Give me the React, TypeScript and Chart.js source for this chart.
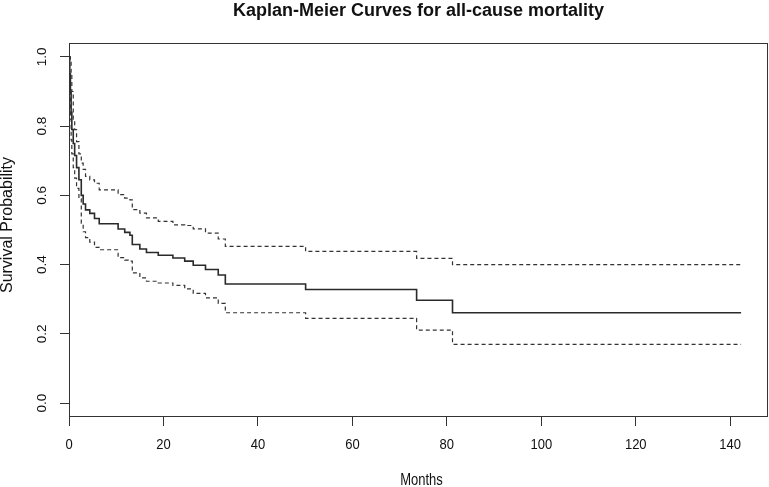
import React, { useEffect, useRef } from 'react';
import { Chart, registerables } from 'chart.js';

Chart.register(...registerables);

// Kaplan-Meier step data (months since start)
const months = [0, 0.15, 0.3, 0.45, 0.6, 0.9, 1.2, 1.6, 2.1, 2.6, 3.0, 3.5, 4.4, 5.4, 6.4, 10.4, 11.8, 12.9, 13.4, 15.0, 16.4, 18.9, 22.0, 24.5, 26.3, 28.9, 31.6, 33.1, 50.1, 73.6, 81.2, 142.3];
const survival = [1.0, 0.95, 0.90, 0.84, 0.79, 0.75, 0.715, 0.68, 0.645, 0.60, 0.575, 0.558, 0.548, 0.533, 0.518, 0.503, 0.493, 0.485, 0.458, 0.445, 0.435, 0.427, 0.419, 0.410, 0.398, 0.386, 0.370, 0.344, 0.328, 0.297, 0.261, 0.261];
const upperCI = [1.0, 1.0, 0.99, 0.95, 0.90, 0.82, 0.79, 0.755, 0.72, 0.693, 0.675, 0.655, 0.645, 0.635, 0.616, 0.602, 0.592, 0.587, 0.559, 0.549, 0.535, 0.525, 0.515, 0.513, 0.503, 0.491, 0.474, 0.453, 0.438, 0.418, 0.400, 0.400];
const lowerCI = [1.0, 0.90, 0.82, 0.76, 0.72, 0.68, 0.65, 0.62, 0.59, 0.52, 0.495, 0.478, 0.465, 0.45, 0.443, 0.42, 0.413, 0.41, 0.376, 0.362, 0.352, 0.347, 0.34, 0.330, 0.317, 0.304, 0.288, 0.261, 0.245, 0.211, 0.170, 0.170];

const xTickValues = [0, 20, 40, 60, 80, 100, 120, 140];
const xTickLabels = ['0', '20', '40', '60', '80', '100', '120', '140'];
const yTickValues = [0, 0.2, 0.4, 0.6, 0.8, 1.0];
const yTickLabels = ['0.0', '0.2', '0.4', '0.6', '0.8', '1.0'];

const titleText = 'Kaplan-Meier Curves for all-cause mortality';
const xTitle = 'Months';
const yTitle = 'Survival Probability';

const FONT = '"Liberation Sans", Arial, Helvetica, sans-serif';
const INK = '#333333';

export default function App() {
  const ref = useRef<HTMLCanvasElement>(null);

  useEffect(() => {
    if (!ref.current) return;
    const toPts = (vals: number[]) => months.map((m, i) => ({ x: m, y: vals[i] }));

    const rText = {
      id: 'rText',
      afterDraw(chart: any) {
        const { ctx, chartArea: a, scales } = chart;
        const xs = scales.x;
        const ys = scales.y;
        ctx.save();
        // plot box
        ctx.strokeStyle = INK;
        ctx.lineWidth = 1;
        ctx.strokeRect(a.left + 0.5, a.top + 0.5, a.right - a.left - 1, a.bottom - a.top - 1);

        ctx.fillStyle = '#111';
        ctx.textAlign = 'center';
        ctx.textBaseline = 'middle';

        const hText = (t: string, x: number, y: number, k: number) => {
          ctx.save();
          ctx.translate(x, y);
          ctx.scale(1, k);
          ctx.fillText(t, 0, 0);
          ctx.restore();
        };

        // title
        ctx.font = `bold 18px ${FONT}`;
        ctx.fillText(titleText, (a.left + a.right) / 2, 11);

        // x tick labels
        ctx.font = `13px ${FONT}`;
        xTickValues.forEach((v, i) => {
          hText(xTickLabels[i], xs.getPixelForValue(v), 445, 1.15);
        });

        // x title
        ctx.font = `13px ${FONT}`;
        hText(xTitle, (a.left + a.right) / 2 + 3, 481, 1.2);

        // y tick labels (rotated)
        ctx.font = `13.5px ${FONT}`;
        yTickValues.forEach((v, i) => {
          ctx.save();
          ctx.translate(42, ys.getPixelForValue(v));
          ctx.rotate(-Math.PI / 2);
          ctx.fillText(yTickLabels[i], 0, 0);
          ctx.restore();
        });

        // y title
        ctx.font = `16px ${FONT}`;
        ctx.save();
        ctx.translate(8, (a.top + a.bottom) / 2 - 5);
        ctx.rotate(-Math.PI / 2);
        ctx.fillText(yTitle, 0, 0);
        ctx.restore();

        ctx.restore();
      },
    };

    const chart = new Chart(ref.current, {
      type: 'line',
      data: {
        datasets: [
          {
            label: 'Upper 95% CI',
            data: toPts(upperCI),
            stepped: 'before',
            borderColor: INK,
            borderWidth: 1.2,
            borderDash: [4, 3],
            pointRadius: 0,
            fill: false,
          },
          {
            label: 'Lower 95% CI',
            data: toPts(lowerCI),
            stepped: 'before',
            borderColor: INK,
            borderWidth: 1.2,
            borderDash: [4, 3],
            pointRadius: 0,
            fill: false,
          },
          {
            label: 'Survival',
            data: toPts(survival),
            stepped: 'before',
            borderColor: '#2a2a2a',
            borderWidth: 1.6,
            pointRadius: 0,
            fill: false,
          },
        ],
      },
      options: {
        responsive: false,
        animation: false,
        devicePixelRatio: 1,
        layout: { padding: { top: 43, right: 1, left: 0, bottom: 0 } },
        plugins: {
          legend: { display: false },
          title: { display: false },
          tooltip: { enabled: false },
        },
        scales: {
          x: {
            type: 'linear',
            min: 0,
            max: 148,
            afterBuildTicks: (s: any) => {
              s.ticks = xTickValues.map((v) => ({ value: v }));
            },
            afterFit: (s: any) => {
              s.height = 70;
            },
            ticks: { display: false },
            grid: { drawOnChartArea: false, drawTicks: true, tickLength: 9, color: INK, lineWidth: 1 },
            border: { display: false },
          },
          y: {
            type: 'linear',
            min: -0.04,
            max: 1.04,
            afterBuildTicks: (s: any) => {
              s.ticks = yTickValues.map((v) => ({ value: v }));
            },
            afterFit: (s: any) => {
              s.width = 69;
            },
            ticks: { display: false },
            grid: { drawOnChartArea: false, drawTicks: true, tickLength: 9, color: INK, lineWidth: 1 },
            border: { display: false },
          },
        },
      },
      plugins: [rText],
    });
    return () => chart.destroy();
  }, []);

  return (
    <div style={{ position: 'absolute', left: 0, top: 0, width: 769, height: 487, background: '#fff' }}>
      <canvas ref={ref} width={769} height={487} style={{ display: 'block' }} />
    </div>
  );
}
